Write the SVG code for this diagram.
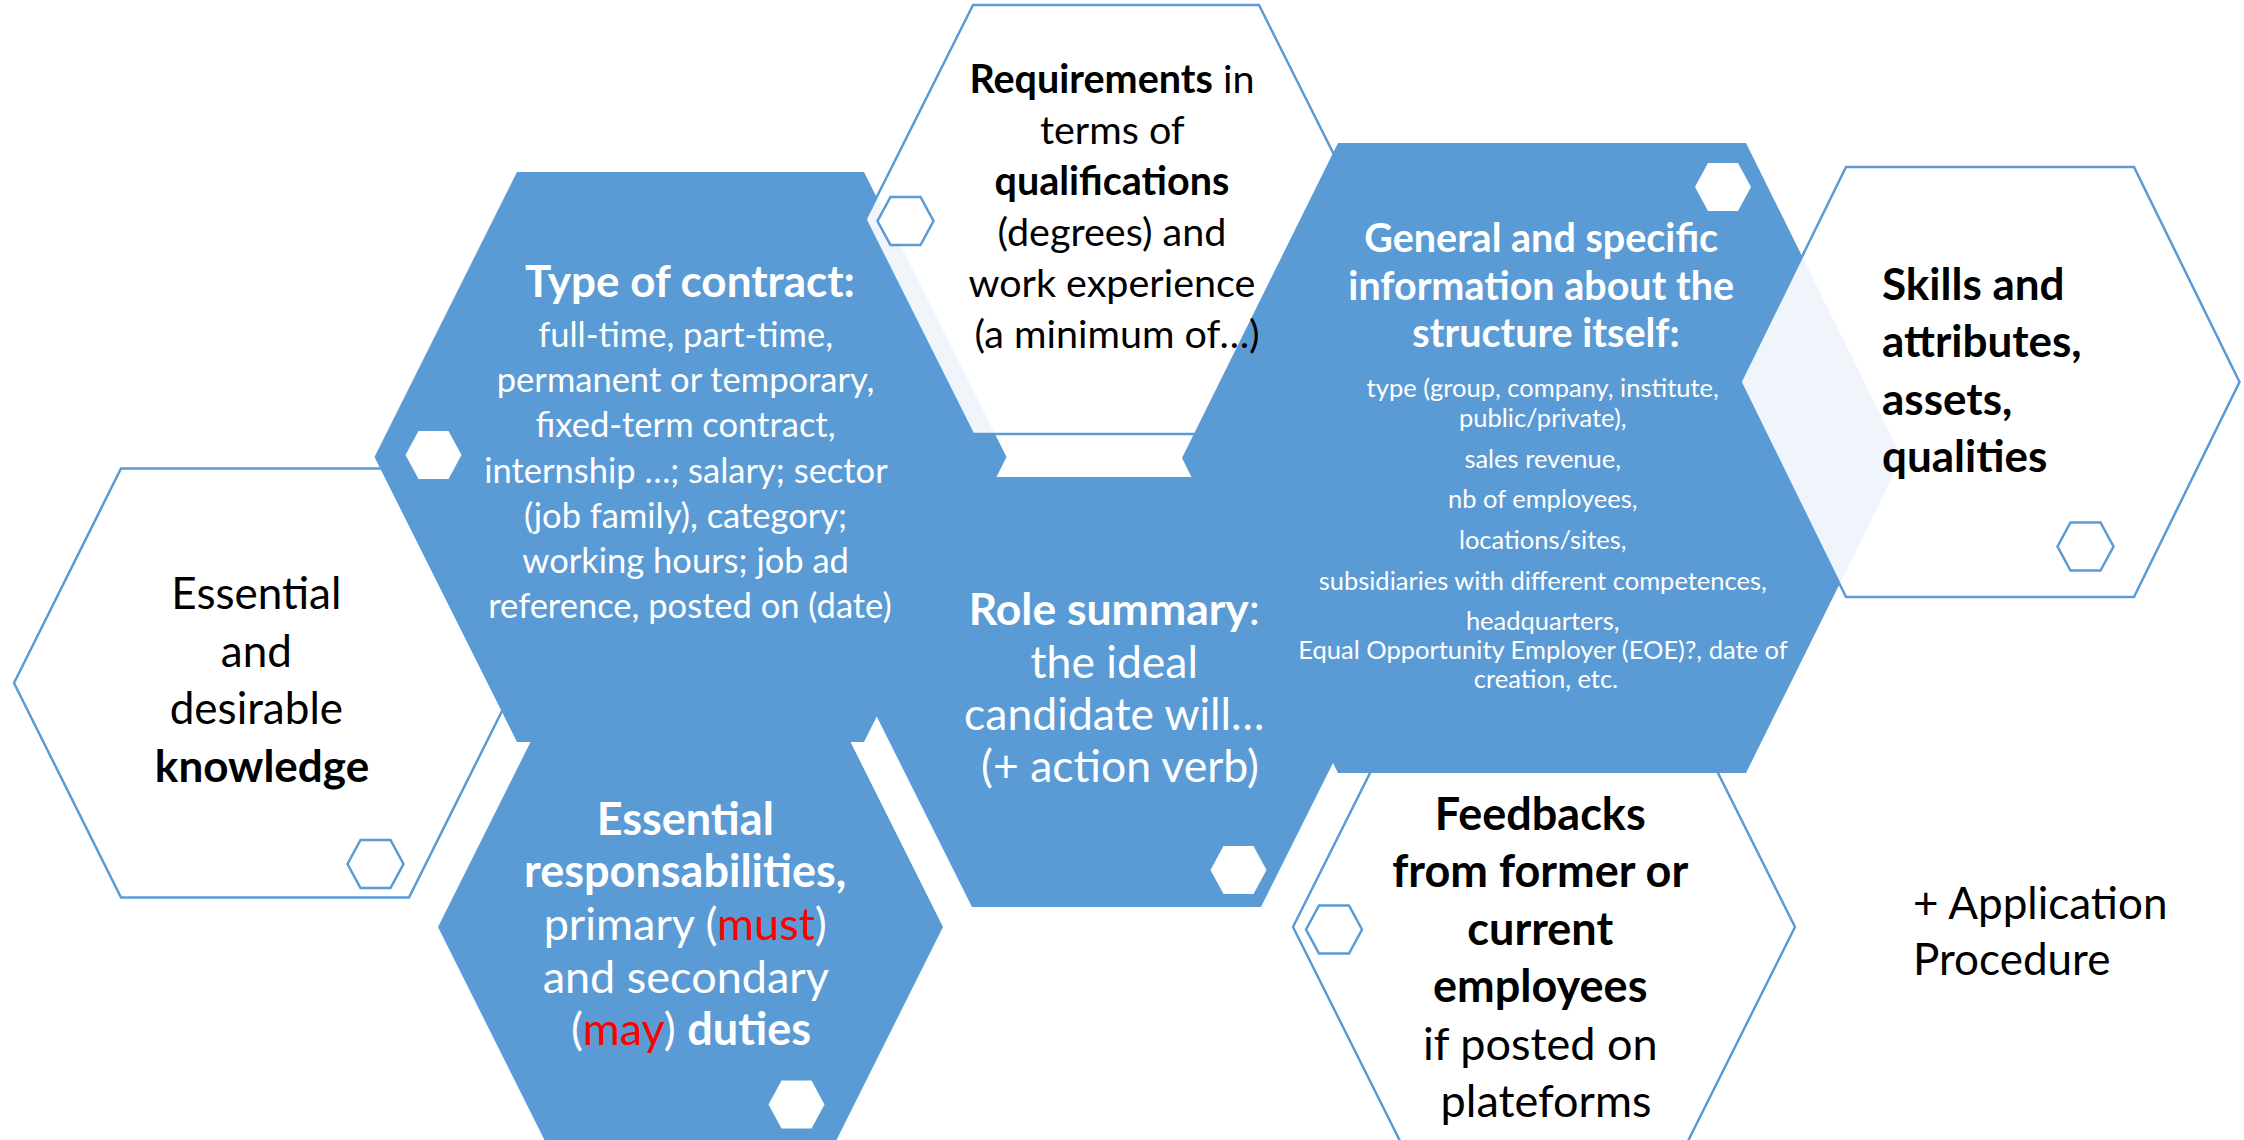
<svg xmlns="http://www.w3.org/2000/svg" xmlns:xlink="http://www.w3.org/1999/xlink" width="2244" height="1140" viewBox="0 0 2244 1140">
<style>
.blue{fill:#5B9BD5;stroke:none}
.outline{fill:#FFFFFF;fill-opacity:0.9;stroke:#5B9BD5;stroke-width:2.5}
.swhite{fill:#FFFFFF;stroke:none}
.sout{fill:#FFFFFF;stroke:#5B9BD5;stroke-width:2.5}
text{font-family:Lato,"Liberation Sans",sans-serif;text-anchor:middle}
.w{fill:#FFFFFF}
.k{fill:#000000}
.b{font-weight:bold}
.red{fill:#FF0000}
.left{text-anchor:start}
</style>
<defs>
<polygon id="small" points="-28,0 -15,-24 15,-24 28,0 15,24 -15,24"/>
</defs>
<rect width="2244" height="1140" fill="#FFFFFF"/>
<g id="connectors"></g>
<g id="hex-knowledge">
<polygon class="outline" points="14,683 121,468.5 409,468.5 516,683 409,897.5 121,897.5"/>
<use href="#small" class="sout" x="375.5" y="864"/>
</g>
<g id="hex-feedbacks">
<polygon class="outline" points="1293,927 1435.5,642 1652.5,642 1795,927 1652.5,1212 1435.5,1212"/>
<use href="#small" class="sout" x="1334" y="929.5"/>
</g>
<g id="hex-type">
<polygon class="blue" points="374.5,457 517,172 864,172 1006.5,457 864,742 517,742"/>
<use href="#small" class="swhite" x="433.5" y="455"/>
</g>
<g id="hex-essential">
<polygon class="blue" points="438,927 580.5,642 800.5,642 943,927 800.5,1212 580.5,1212"/>
<use href="#small" class="swhite" x="796.5" y="1104.5"/>
</g>
<g id="hex-role">
<polygon class="blue" points="864.5,692 972,477 1261,477 1368.5,692 1261,907 972,907"/>
<use href="#small" class="swhite" x="1238.5" y="870"/>
</g>
<g id="hex-requirements">
<polygon class="outline" points="865.5,219.5 973,5 1259,5 1366.5,219.5 1259,434 973,434"/>
<use href="#small" class="sout" x="905.5" y="221"/>
</g>
<g id="hex-general">
<polygon class="blue" points="1182,458 1338,143 1746,143 1902,458 1746,773 1338,773"/>
<use href="#small" class="swhite" x="1723" y="187"/>
</g>
<g id="hex-skills">
<polygon class="outline" points="1740.5,382 1846,167 2134,167 2239.5,382 2134,597 1846,597"/>
<use href="#small" class="sout" x="2085.5" y="546.5"/>
</g>
<g id="labels">
<text class="k" font-size="39.5">
<tspan x="1117" y="93"><tspan class="b">Requirements</tspan> in</tspan>
<tspan x="1117" y="144">terms of</tspan>
<tspan x="1117" y="195" class="b">qualifications</tspan>
<tspan x="1117" y="246">(degrees) and</tspan>
<tspan x="1117" y="297">work experience</tspan>
<tspan x="1117" y="348">(a minimum of…)</tspan>
</text>
<text class="w b" font-size="44" x="690" y="297">Type of contract:</text>
<text class="w" font-size="34.5">
<tspan x="690" y="347">full-time, part-time,</tspan>
<tspan x="690" y="392">permanent or temporary,</tspan>
<tspan x="690" y="437">fixed-term contract,</tspan>
<tspan x="690" y="482.5">internship …; salary; sector</tspan>
<tspan x="690" y="528">(job family), category;</tspan>
<tspan x="690" y="573">working hours; job ad</tspan>
<tspan x="690" y="618">reference, posted on (date)</tspan>
</text>
<text class="k" font-size="44">
<tspan x="262" y="609">Essential</tspan>
<tspan x="262" y="666.5">and</tspan>
<tspan x="262" y="724">desirable</tspan>
<tspan x="262" y="781.5" class="b">knowledge</tspan>
</text>
<text class="w" font-size="44.5">
<tspan x="1120" y="625"><tspan class="b">Role summary</tspan>:</tspan>
<tspan x="1120" y="677.5">the ideal</tspan>
<tspan x="1120" y="730">candidate will…</tspan>
<tspan x="1120" y="782">(+ action verb)</tspan>
</text>
<text class="w" font-size="45">
<tspan x="691" y="835" class="b">Essential</tspan>
<tspan x="691" y="887" class="b">responsabilities,</tspan>
<tspan x="691" y="940">primary (<tspan class="red">must</tspan>)</tspan>
<tspan x="691" y="993">and secondary</tspan>
<tspan x="691" y="1045">(<tspan class="red">may</tspan>) <tspan class="b">duties</tspan></tspan>
</text>
<text class="w b" font-size="39.5">
<tspan x="1546" y="252">General and specific</tspan>
<tspan x="1546" y="300">information about the</tspan>
<tspan x="1546" y="347">structure itself:</tspan>
</text>
<text class="w" font-size="25.5">
<tspan x="1546" y="397">type (group, company, institute,</tspan>
<tspan x="1546" y="427">public/private),</tspan>
<tspan x="1546" y="468">sales revenue,</tspan>
<tspan x="1546" y="508">nb of employees,</tspan>
<tspan x="1546" y="549">locations/sites,</tspan>
<tspan x="1546" y="590">subsidiaries with different competences,</tspan>
<tspan x="1546" y="630">headquarters,</tspan>
<tspan x="1546" y="659">Equal Opportunity Employer (EOE)?, date of</tspan>
<tspan x="1546" y="688">creation, etc.</tspan>
</text>
<text class="k" font-size="45">
<tspan x="1546" y="830" class="b">Feedbacks</tspan>
<tspan x="1546" y="887" class="b">from former or</tspan>
<tspan x="1546" y="945" class="b">current</tspan>
<tspan x="1546" y="1002" class="b">employees</tspan>
<tspan x="1546" y="1060">if posted on</tspan>
<tspan x="1546" y="1117">plateforms</tspan>
</text>
<text class="k b left" font-size="44">
<tspan x="1882" y="300">Skills and</tspan>
<tspan x="1882" y="357">attributes,</tspan>
<tspan x="1882" y="415">assets,</tspan>
<tspan x="1882" y="472">qualities</tspan>
</text>
<text class="k left" font-size="44">
<tspan x="1913" y="919">+ Application</tspan>
<tspan x="1913" y="975">Procedure</tspan>
</text>
</g>
</svg>
